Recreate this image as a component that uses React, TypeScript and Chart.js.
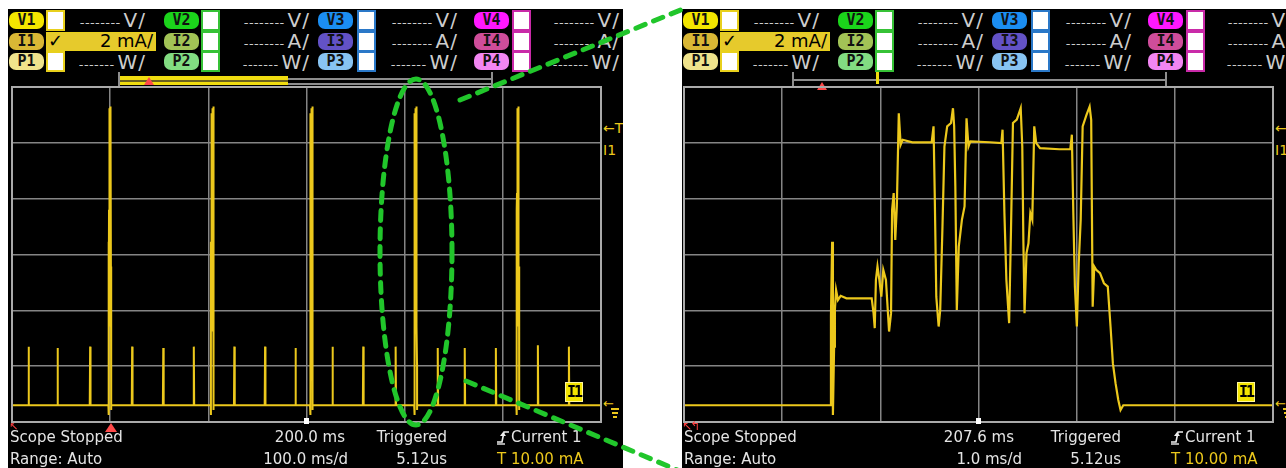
import React, { useEffect, useRef } from "react";
import { Chart, registerables } from "chart.js";
Chart.register(...registerables);

// ---------------- data ----------------
// overview (left screen): 100 ms/div, 6 divisions
const overviewAxisMs = [0, 600];
const overviewStepMs = 100;
const overviewPulseMs = [16.9, 46.4, 79.6, 122.4, 154.1, 185.2, 226.5, 257.8, 288.8, 326.5, 357.8, 390.8, 433.7, 461.2, 492.9, 535.7, 567.3];
const overviewPulseMa = [2.1, 2.05, 2.1, 2.1, 2.05, 2.1, 2.1, 2.1, 2.05, 2.1, 2.1, 2.1, 2.05, 2.05, 2.05, 2.15, 2.1];
const overviewBurstMs = [99.7, 204.1, 305.1, 411.2, 515.3];

// zoomed burst (right screen): 1.0 ms/div, 6 divisions
const zoomAxisMs = [0, 6];
const zoomStepMs = 1;
const zoomCenterMs = 3.0;
const zoomTimeMs = [0, 1.49, 1.497, 1.509, 1.517, 1.529, 1.537, 1.549, 1.568, 1.596, 1.655, 1.773, 1.912, 1.931, 1.943, 1.955, 1.971, 1.99, 2.01, 2.03, 2.057, 2.089, 2.109, 2.12, 2.136, 2.152, 2.168, 2.188, 2.207, 2.227, 2.326, 2.523, 2.542, 2.554, 2.57, 2.594, 2.61, 2.633, 2.653, 2.681, 2.72, 2.74, 2.752, 2.764, 2.779, 2.799, 2.831, 2.858, 2.878, 2.898, 2.917, 3.115, 3.233, 3.245, 3.264, 3.284, 3.312, 3.331, 3.351, 3.39, 3.43, 3.446, 3.457, 3.469, 3.489, 3.509, 3.528, 3.548, 3.568, 3.588, 3.627, 3.824, 3.935, 3.951, 3.966, 3.982, 4.002, 4.021, 4.041, 4.061, 4.1, 4.132, 4.148, 4.163, 4.179, 4.199, 4.238, 4.278, 4.317, 4.345, 4.369, 4.396, 4.424, 4.447, 4.475, 4.534, 6.0];
const zoomCurrentMa = [0, 0, 3.18, 5.86, -0.35, 2.1, 3.41, 4.13, 3.77, 3.92, 3.83, 3.83, 3.83, 3.3, 2.76, 4.49, 4.97, 4.49, 3.89, 4.85, 4.49, 2.64, 3.3, 7.0, 7.6, 5.92, 7.12, 10.46, 9.33, 9.51, 9.42, 9.42, 9.99, 7.6, 3.89, 2.82, 3.41, 6.4, 9.27, 9.99, 10.11, 10.64, 9.99, 7.84, 3.41, 5.68, 6.64, 7.12, 10.28, 9.27, 9.45, 9.42, 9.39, 9.87, 6.88, 4.49, 2.94, 6.28, 10.11, 10.23, 10.64, 9.27, 5.92, 3.3, 5.45, 5.8, 6.88, 6.64, 9.99, 9.39, 9.21, 9.17, 9.17, 9.69, 6.88, 4.25, 2.82, 5.09, 6.64, 9.99, 10.4, 10.7, 10.22, 3.53, 4.97, 4.85, 4.73, 4.37, 4.25, 2.82, 1.5, 0.79, 0.19, -0.17, 0, 0, 0];

// 2 mA/div grid, baseline offset
const currentGridMa = [-0.6, 1.4, 3.4, 5.4, 7.4, 9.4, 11.4];

// ---------------- styles ----------------
const TRACE = "#ecc81c";
const GRID = "#858585";
const FRAME = "#aaaaaa";
const TEXT = "#e4e4e4";
const HEAD_TEXT = "#cdcdcd";
const GREEN = "#21c62b";
const FONT = "'DejaVu Sans', sans-serif";

type Pt = { x: number; y: number };

function buildOverview(): Pt[] {
  const ev: { t: number; h?: number; burst: boolean }[] = [];
  overviewPulseMs.forEach((t, i) => ev.push({ t, h: overviewPulseMa[i], burst: false }));
  overviewBurstMs.forEach((t) => ev.push({ t, burst: true }));
  ev.sort((a, b) => a.t - b.t);
  const pts: Pt[] = [{ x: overviewAxisMs[0], y: 0 }];
  for (const e of ev) {
    if (!e.burst) {
      pts.push({ x: e.t - 0.4, y: 0 }, { x: e.t, y: e.h as number }, { x: e.t + 0.4, y: 0 });
    } else {
      zoomTimeMs.forEach((zt, i) => {
        if (zt > 1.45 && zt < 4.55) pts.push({ x: e.t + zt - zoomCenterMs, y: zoomCurrentMa[i] });
      });
    }
  }
  pts.push({ x: overviewAxisMs[1], y: 0 });
  return pts;
}

function buildZoom(): Pt[] {
  return zoomTimeMs.map((t, i) => ({ x: t, y: zoomCurrentMa[i] }));
}

const framePlugin = {
  id: "scopeFrame",
  afterDraw(chart: any) {
    const { ctx, chartArea: a } = chart;
    ctx.save();
    ctx.strokeStyle = FRAME;
    ctx.lineWidth = 2;
    ctx.strokeRect(a.left, a.top, a.right - a.left, a.bottom - a.top);
    ctx.restore();
  },
};

const PLOT_TOP = 87;
const PLOT_W = 589;
const PLOT_H = 335;

function ScopeChart(props: { left: number; points: Pt[]; xAxis: number[]; xStep: number; width: number }) {
  const ref = useRef<HTMLCanvasElement>(null);
  useEffect(() => {
    const chart = new Chart(ref.current as HTMLCanvasElement, {
      type: "scatter",
      data: {
        datasets: [
          {
            data: props.points,
            showLine: true,
            borderColor: TRACE,
            borderWidth: props.width,
            pointRadius: 0,
            tension: 0,
          } as any,
        ],
      },
      options: {
        animation: false,
        responsive: false,
        maintainAspectRatio: false,
        events: [],
        layout: { padding: 2 },
        plugins: { legend: { display: false }, tooltip: { enabled: false } },
        scales: {
          x: {
            type: "linear",
            min: props.xAxis[0],
            max: props.xAxis[1],
            ticks: { display: false, stepSize: props.xStep },
            grid: { color: GRID, lineWidth: 1.5, drawTicks: false },
            border: { display: false },
          },
          y: {
            type: "linear",
            min: currentGridMa[0],
            max: currentGridMa[currentGridMa.length - 1],
            afterBuildTicks: (s: any) => {
              s.ticks = currentGridMa.map((v) => ({ value: v }));
            },
            ticks: { display: false },
            grid: { color: GRID, lineWidth: 1.5, drawTicks: false },
            border: { display: false },
          },
        },
      } as any,
      plugins: [framePlugin],
    });
    return () => chart.destroy();
  }, []);
  return (
    <canvas
      ref={ref}
      width={PLOT_W + 4}
      height={PLOT_H + 4}
      style={{ position: "absolute", left: props.left - 2, top: PLOT_TOP - 2, width: PLOT_W + 4, height: PLOT_H + 4 }}
    />
  );
}

// ---------------- header ----------------
const channelNames = ["1", "2", "3", "4"];
const rowKinds = ["V", "I", "P"];
const rowUnits = ["V/", "A/", "W/"];
const rowDashes = ["--------", "--------", "-------"];
const pillColors = [
  ["#f4e600", "#d9b735", "#efe38c"],
  ["#1bd41b", "#a2c356", "#82dc82"],
  ["#1b8ef2", "#6352c6", "#88c4f2"],
  ["#ff18ff", "#cf4d9a", "#f286f2"],
];
const frameColors = ["#e8d01c", "#36c236", "#2a78c8", "#c92aa8"];
const pillX = [1, 156, 310, 466];
const boxX = [38, 193, 349, 504];
const textEnd = [138, 302, 450, 612];
const rowCenter = [20, 41, 61.5];

function Header() {
  const els: any[] = [];
  channelNames.forEach((ch, c) => {
    rowKinds.forEach((k, r) => {
      const cy = rowCenter[r];
      els.push(
        <div
          key={`p${c}${r}`}
          style={{
            position: "absolute", left: pillX[c], top: cy - 8.5, width: 35, height: 17,
            background: pillColors[c][r], borderRadius: 7, color: "#111",
            font: `bold 15px 'DejaVu Sans Mono', monospace`, lineHeight: "17px", textAlign: "center",
          }}
        >
          {k + ch}
        </div>
      );
      const special = c === 0 && r === 1;
      if (!special) {
        els.push(
          <div
            key={`b${c}${r}`}
            style={{
              position: "absolute", left: boxX[c], top: cy - 10.5, width: 19, height: 21,
              boxSizing: "border-box", background: "#fff", border: `2px solid ${frameColors[c]}`,
            }}
          />
        );
        els.push(
          <div
            key={`t${c}${r}`}
            style={{
              position: "absolute", left: textEnd[c] - 110, top: cy - 12, width: 110, height: 24,
              textAlign: "right", color: HEAD_TEXT, fontFamily: FONT, lineHeight: "24px", whiteSpace: "nowrap",
            }}
          >
            <span style={{ fontSize: 13, letterSpacing: 0.4 }}>{rowDashes[r]}</span>
            <span style={{ fontSize: 20, letterSpacing: 1, marginLeft: 3 }}>{rowUnits[r]}</span>
          </div>
        );
      } else {
        els.push(
          <div
            key="i1"
            style={{
              position: "absolute", left: boxX[0], top: cy - 9.5, width: 110, height: 19,
              boxSizing: "border-box", background: "#e6ca2c", border: "1px solid #e8d01c",
            }}
          >
            <span style={{ position: "absolute", left: 1, top: -3, fontSize: 18, color: "#000", fontFamily: FONT }}>✓</span>
            <span style={{ position: "absolute", right: 2, top: -3, fontSize: 18, color: "#000", fontFamily: FONT }}>2 mA/</span>
          </div>
        );
      }
    });
  });
  return <>{els}</>;
}

// ---------------- panel ----------------
type PanelProps = {
  x0: number;
  width: number;
  plotX: number;
  points: Pt[];
  xAxis: number[];
  xStep: number;
  lineWidth: number;
  timeLabel: string;
  divLabel: string;
  timeEnd: number;
  divEnd: number;
  overview: boolean;
};

function TrigIcon({ left, top }: { left: number; top: number }) {
  return (
    <svg width={14} height={16} style={{ position: "absolute", left, top }}>
      <path d="M1 13 H6 L8 3 H13" stroke="#eee" strokeWidth={1.6} fill="none" />
      <path d="M4 7 L7 3 L10 7 Z" fill="#eee" />
      <path d="M1 15 H9" stroke="#eee" strokeWidth={1.4} />
    </svg>
  );
}

function Panel(p: PanelProps) {
  const pl = p.plotX - p.x0; // plot left, relative
  const pr = pl + PLOT_W;
  const center = pl + PLOT_W / 2;
  const txt = (s: string, style: any, key: string) => (
    <div key={key} style={{ position: "absolute", fontFamily: FONT, fontSize: 15, color: TEXT, whiteSpace: "nowrap", lineHeight: "18px", ...style }}>
      {s}
    </div>
  );
  return (
    <div style={{ position: "absolute", left: p.x0, top: 0, width: p.width, height: 468, overflow: "hidden" }}>
      <div style={{ position: "absolute", left: 0, top: 9, width: p.width, height: 459, background: "#000" }} />
      <Header />
      {/* timeline bar */}
      {p.overview ? (
        <div style={{ position: "absolute", left: 111, top: 78, width: 373, height: 7, boxSizing: "border-box", borderTop: "2px solid #8d8d8d", borderBottom: "2px solid #8d8d8d" }} />
      ) : (
        <div style={{ position: "absolute", left: 111, top: 79, width: 373, height: 2, background: "#8d8d8d" }} />
      )}
      <div style={{ position: "absolute", left: 110, top: 72, width: 2, height: 16, background: "#8d8d8d" }} />
      <div style={{ position: "absolute", left: 483, top: 72, width: 2, height: 16, background: "#8d8d8d" }} />
      {p.overview ? (
        <div style={{ position: "absolute", left: 112, top: 76, width: 168, height: 9, background: "#f0dc10" }}>
          <div style={{ position: "absolute", left: 0, top: 3.5, width: 168, height: 2, background: "#6a6020" }} />
        </div>
      ) : (
        <div style={{ position: "absolute", left: 194, top: 72, width: 3, height: 12, borderLeft: "3px dashed #f0dc10", boxSizing: "border-box" }} />
      )}
      <div
        style={{
          position: "absolute", left: p.overview ? 136 : 135, top: p.overview ? 77 : 82, width: 0, height: 0,
          borderLeft: "5px solid transparent", borderRight: "5px solid transparent", borderBottom: "8px solid #ff4a4a",
        }}
      />
      <ScopeChart left={pl} points={p.points} xAxis={p.xAxis} xStep={p.xStep} width={p.lineWidth} />
      {/* right-side markers */}
      {txt("←T", { left: pr + 2, top: 119, color: TRACE, fontSize: 14 }, "tmark")}
      {txt("I1", { left: pr + 2, top: 141, color: TRACE, fontSize: 14 }, "i1mark")}
      {txt("←", { left: pr + 2, top: 395, color: TRACE, fontSize: 13 }, "gnd")}
      <div style={{ position: "absolute", left: pr + 10, top: 408, width: 8, height: 2, background: TRACE }} />
      <div style={{ position: "absolute", left: pr + 11, top: 412, width: 6, height: 2, background: TRACE }} />
      <div style={{ position: "absolute", left: pr + 12, top: 416, width: 4, height: 2, background: TRACE }} />
      {/* channel badge */}
      <div
        style={{
          position: "absolute", left: pr - 36, top: 382, width: 18, height: 20, boxSizing: "border-box",
          background: "#f2e400", border: "1px solid #fff79a", color: "#000", fontFamily: "'DejaVu Sans Mono', monospace",
          fontSize: 15, fontWeight: "bold", lineHeight: "18px", textAlign: "center", letterSpacing: -2,
        }}
      >
        I1
      </div>
      {/* bottom markers */}
      <div style={{ position: "absolute", left: center - 2.5, top: 418, width: 5, height: 6, background: "#fff" }} />
      {p.overview ? (
        <>
          <div
            style={{
              position: "absolute", left: pl + 93, top: 423, width: 0, height: 0,
              borderLeft: "6px solid transparent", borderRight: "6px solid transparent", borderBottom: "9px solid #ff4a4a",
            }}
          />
          {txt("↖", { left: pl - 3, top: 418, color: "#ff4040", fontSize: 11 }, "rm")}
        </>
      ) : (
        txt("↖↰", { left: pl - 2, top: 417, color: "#ff4040", fontSize: 12, letterSpacing: -2 }, "rm")
      )}
      {/* status text */}
      {txt("Scope Stopped", { left: 2, top: 428 }, "s1")}
      {txt("Range: Auto", { left: 2, top: 450 }, "s2")}
      {txt(p.timeLabel, { left: p.timeEnd - 120, width: 120, textAlign: "right", top: 428 }, "s3")}
      {txt(p.divLabel, { left: p.divEnd - 120, width: 120, textAlign: "right", top: 450 }, "s4")}
      {txt("Triggered", { left: 319, width: 120, textAlign: "right", top: 428 }, "s5")}
      {txt("5.12us", { left: 319, width: 120, textAlign: "right", top: 450 }, "s6")}
      <TrigIcon left={488} top={429} />
      {txt("Current 1", { left: 503, top: 428 }, "s7")}
      {txt("T 10.00 mA", { left: 489, top: 450, color: TRACE }, "s8")}
    </div>
  );
}

export default function App() {
  const overview = buildOverview();
  const zoom = buildZoom();
  return (
    <div style={{ position: "absolute", left: 0, top: 0, width: 1286, height: 468, background: "#fff", overflow: "hidden" }}>
      <Panel
        x0={8} width={615} plotX={12} points={overview} xAxis={overviewAxisMs} xStep={overviewStepMs} lineWidth={2}
        timeLabel="200.0 ms" divLabel="100.0 ms/d" timeEnd={337} divEnd={340} overview={true}
      />
      <Panel
        x0={682} width={604} plotX={684} points={zoom} xAxis={zoomAxisMs} xStep={zoomStepMs} lineWidth={2.2}
        timeLabel="207.6 ms" divLabel="1.0 ms/d" timeEnd={332} divEnd={340} overview={false}
      />
      <svg width={1286} height={468} style={{ position: "absolute", left: 0, top: 0, pointerEvents: "none" }}>
        <ellipse cx={416} cy={252} rx={36} ry={173} fill="none" stroke={GREEN} strokeWidth={5} strokeDasharray="10 8" strokeLinecap="round" />
        <line x1={460} y1={100} x2={683} y2={9} stroke={GREEN} strokeWidth={5} strokeDasharray="10 9" strokeLinecap="round" />
        <line x1={466} y1={381} x2={682} y2={472} stroke={GREEN} strokeWidth={5} strokeDasharray="10 9" strokeLinecap="round" />
      </svg>
    </div>
  );
}
